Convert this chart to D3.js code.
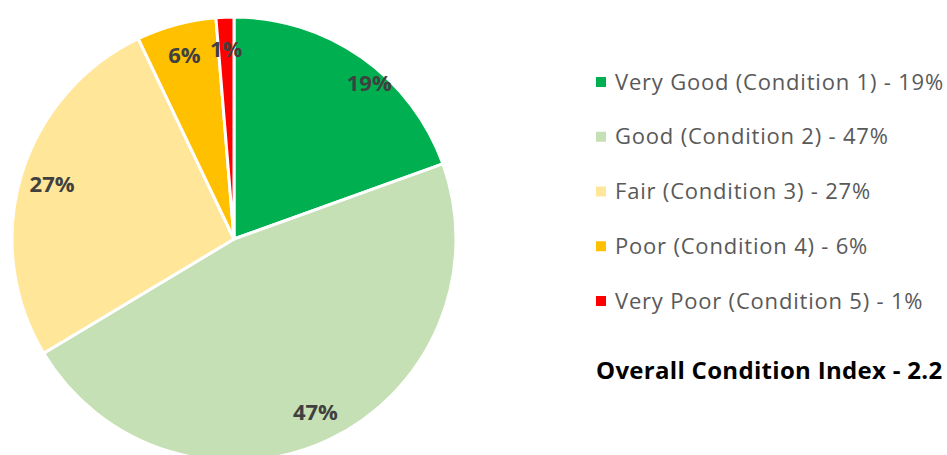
<html>
  <head>
    <meta charset="utf-8">
    <script src="https://d3js.org/d3.v7.min.js"></script>
    <style>
      body { margin: 0; background: #ffffff; }
      svg { display: block; font-family: "Open Sans", sans-serif; }
    </style>
    <script>
      // chart data
      var categories = ["Very Good (Condition 1)", "Good (Condition 2)", "Fair (Condition 3)",
                        "Poor (Condition 4)", "Very Poor (Condition 5)"];
      var shares = [19.5, 46.9, 26.5, 5.8, 1.3];
      var shareLabels = ["19%", "47%", "27%", "6%", "1%"];
      var colors = ["#00B050", "#C5E0B4", "#FFE699", "#FFC000", "#FF0000"];
      var indexLabel = "Overall Condition Index - 2.2";

      function load() {
        var svg = d3.select("svg"),
            cx = 234, cy = 239, r = 222;

        var pie = d3.pie().sort(null).value(function(d) { return d; });
        var arcs = pie(shares);
        var arc = d3.arc().innerRadius(0).outerRadius(r);
        var labelArc = d3.arc().innerRadius(190).outerRadius(190);

        var g = svg.append("g").attr("transform", "translate(" + cx + "," + cy + ")");

        g.selectAll("path")
          .data(arcs)
          .enter().append("path")
          .attr("d", arc)
          .attr("fill", function(d, i) { return colors[i]; })
          .attr("stroke", "#ffffff")
          .attr("stroke-width", 3)
          .attr("stroke-linejoin", "round");

        g.selectAll("text.lbl")
          .data(arcs)
          .enter().append("text")
          .attr("class", "lbl")
          .attr("transform", function(d, i) {
            var p = labelArc.centroid(d);
            if (i == 0) p[0] += 26;   // excel nudges the first label outward
            if (i == 1) p[1] += 2;
            return "translate(" + p + ")";
          })
          .attr("text-anchor", "middle")
          .attr("dy", "0.35em")
          .attr("font-size", 22)
          .attr("font-weight", "bold")
          .attr("fill", "#404040")
          .text(function(d, i) { return shareLabels[i]; });

        // legend
        var y = d3.scalePoint().domain(d3.range(categories.length)).range([82, 301]);
        var leg = svg.append("g");
        var rows = leg.selectAll("g")
          .data(categories)
          .enter().append("g")
          .attr("transform", function(d, i) { return "translate(596," + y(i) + ")"; });
        rows.append("rect")
          .attr("x", 0).attr("y", -5)
          .attr("width", 10).attr("height", 10)
          .attr("fill", function(d, i) { return colors[i]; });
        rows.append("text")
          .attr("x", 19)
          .attr("dy", "0.35em")
          .attr("font-size", 22)
          .attr("letter-spacing", 0.8)
          .attr("fill", "#595959")
          .text(function(d, i) { return d + " - " + shareLabels[i]; });

        svg.append("text")
          .attr("x", 596)
          .attr("y", 371)
          .attr("dy", "0.35em")
          .attr("font-size", 24)
          .attr("letter-spacing", 0.3)
          .attr("font-weight", "bold")
          .attr("fill", "#000000")
          .text(indexLabel);
      }
    </script>
  </head>
  <body onload="load()">
    <svg width="947" height="455"></svg>
  </body>
</html>
